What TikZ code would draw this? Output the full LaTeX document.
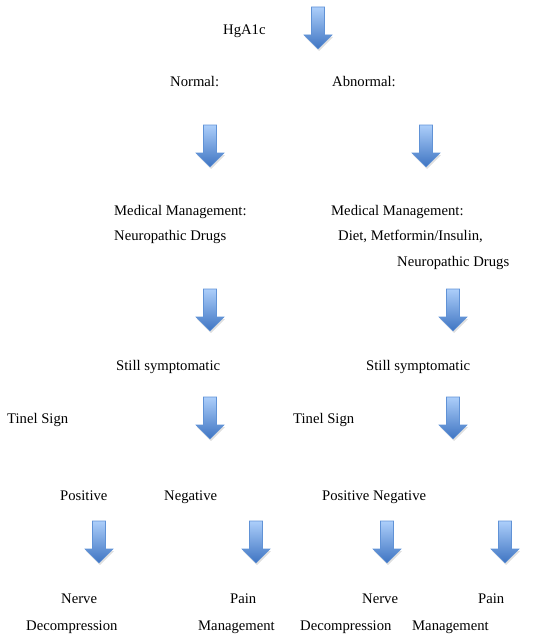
\documentclass[tikz,border=0pt]{standalone}
\usepackage{fontspec}
\setmainfont{Liberation Serif}
\definecolor{arrtop}{RGB}{172,206,250}
\definecolor{arrbot}{RGB}{62,116,194}
\definecolor{arredge}{RGB}{96,146,214}
\newcommand\blockarrow[2]{%
  \fill[black,opacity=.12] (#1-13,#2+30) -- (#1+15,#2+30) -- (#1+1,#2+44) -- cycle;
  \path[top color=arrtop,bottom color=arrbot,draw=arredge,line width=0.6pt]
    (#1-6.5,#2) -- (#1+6.5,#2) -- (#1+6.5,#2+28) -- (#1+14,#2+28) -- (#1,#2+42)
    -- (#1-14,#2+28) -- (#1-6.5,#2+28) -- cycle;}
\tikzset{lbl/.style={anchor=base west, inner sep=0pt, font=\fontsize{14.67}{17}\selectfont}}
\begin{document}
\begin{tikzpicture}[x=1pt,y=-1pt]
\useasboundingbox (0,0) rectangle (539,642);
% arrows
\blockarrow{318}{7}
\blockarrow{210}{125}
\blockarrow{426}{125}
\blockarrow{210}{289}
\blockarrow{453}{289}
\blockarrow{210}{397}
\blockarrow{453}{397}
\blockarrow{99}{521}
\blockarrow{256}{521}
\blockarrow{387}{521}
\blockarrow{505}{521}
% texts
\node[lbl] (hg) at (223,35) {HgA1c};
\node[lbl] (normal) at (170,86) {Normal:};
\node[lbl] (abnormal) at (332,86) {Abnormal:};
\node[lbl] (mmL) at (114,215) {Medical Management:};
\node[lbl] (ndL) at (114,240) {Neuropathic Drugs};
\node[lbl] (mmR) at (331,215) {Medical Management:};
\node[lbl] (dietR) at (338,240) {Diet, Metformin/Insulin,};
\node[lbl] (ndR) at (397,266) {Neuropathic Drugs};
\node[lbl] (ssL) at (116,370) {Still symptomatic};
\node[lbl] (ssR) at (366,370) {Still symptomatic};
\node[lbl] (tinelL) at (7,423) {Tinel Sign};
\node[lbl] (tinelR) at (293,423) {Tinel Sign};
\node[lbl] (posL) at (60,500) {Positive};
\node[lbl] (negL) at (164,500) {Negative};
\node[lbl] (posnegR) at (322,500) {Positive Negative};
\node[lbl] (nerveL) at (61,603) {Nerve};
\node[lbl] (decL) at (26,630) {Decompression};
\node[lbl] (painL) at (230,603) {Pain};
\node[lbl] (mgmtL) at (198,630) {Management};
\node[lbl] (nerveR) at (362,603) {Nerve};
\node[lbl] (decR) at (300,630) {Decompression};
\node[lbl] (painR) at (478,603) {Pain};
\node[lbl] (mgmtR) at (412,630) {Management};
\end{tikzpicture}
\end{document}
